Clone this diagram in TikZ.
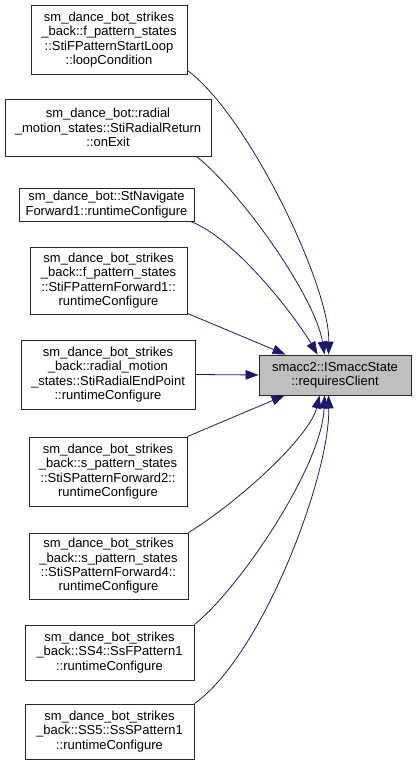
\documentclass[tikz,border=0pt]{standalone}
\usepackage{fontspec}
\setmainfont{Liberation Sans}
\usetikzlibrary{arrows.meta}
\definecolor{mblue}{HTML}{191970}
\definecolor{tgray}{HTML}{BFBFBF}
\begin{document}
\begin{tikzpicture}[x=1pt,y=1pt,
  box/.style={draw=black!85,line width=0.9pt,inner sep=0pt,align=center,
    font=\fontsize{13}{14.3}\selectfont,anchor=center},
  edge/.style={draw=mblue,line width=0.8pt,-{Triangle[length=13pt,width=9.5pt]}}]
\useasboundingbox (0,0) rectangle (416,766);
\node[box,minimum width=156pt,minimum height=69pt] (b1) at (109,726.5)
  {sm\_dance\_bot\_strikes\\\_back::f\_pattern\_states\\::StiFPatternStartLoop\\::loopCondition};
\node[box,minimum width=206pt,minimum height=57pt] (b2) at (108,638.5)
  {sm\_dance\_bot::radial\\\_motion\_states::StiRadialReturn\\::onExit};
\node[box,minimum width=175pt,minimum height=33pt] (b3) at (106.5,561.5)
  {sm\_dance\_bot::StNavigate\\Forward1::runtimeConfigure};
\node[box,minimum width=157pt,minimum height=67pt] (b4) at (108.5,485.5)
  {sm\_dance\_bot\_strikes\\\_back::f\_pattern\_states\\::StiFPatternForward1::\\runtimeConfigure};
\node[box,minimum width=174pt,minimum height=69pt] (b5) at (108,391.5)
  {sm\_dance\_bot\_strikes\\\_back::radial\_motion\\\_states::StiRadialEndPoint\\::runtimeConfigure};
\node[box,minimum width=158pt,minimum height=69pt] (b6) at (108,294.5)
  {sm\_dance\_bot\_strikes\\\_back::s\_pattern\_states\\::StiSPatternForward2::\\runtimeConfigure};
\node[box,minimum width=159pt,minimum height=66pt] (b7) at (108.5,200)
  {sm\_dance\_bot\_strikes\\\_back::s\_pattern\_states\\::StiSPatternForward4::\\runtimeConfigure};
\node[box,minimum width=169pt,minimum height=55pt] (b8) at (109.5,113.5)
  {sm\_dance\_bot\_strikes\\\_back::SS4::SsFPattern1\\::runtimeConfigure};
\node[box,minimum width=169pt,minimum height=55pt] (b9) at (109.5,34.5)
  {sm\_dance\_bot\_strikes\\\_back::SS5::SsSPattern1\\::runtimeConfigure};
\node[box,fill=tgray,minimum width=152pt,minimum height=40pt] (t) at (335,391)
  {smacc2::ISmaccState\\::requiresClient};
\draw[edge] ([yshift=4pt]b1.south east) .. controls (248,651) and (330,480) .. ([xshift=70pt]t.north west);
\draw[edge] ([xshift=-15pt]b2.south east) .. controls (240,575) and (315,470) .. ([xshift=66pt]t.north west);
\draw[edge] ([xshift=-4pt]b3.south east) .. controls (235,528) and (295,450) .. ([xshift=59pt]t.north west);
\draw[edge] ([yshift=1pt]b4.south east) -- ([xshift=27pt]t.north west);
\draw[edge] (b5.east) -- (t.west);
\draw[edge] (b6.north east) -- ([xshift=26pt]t.south west);
\draw[edge] (b7.north east) .. controls (240,265) and (310,330) .. ([xshift=61pt]t.south west);
\draw[edge] (b8.north east) .. controls (240,178) and (322,300) .. ([xshift=66pt]t.south west);
\draw[edge] (b9.north east) .. controls (262,110) and (330,290) .. ([xshift=70pt]t.south west);
\end{tikzpicture}
\end{document}
